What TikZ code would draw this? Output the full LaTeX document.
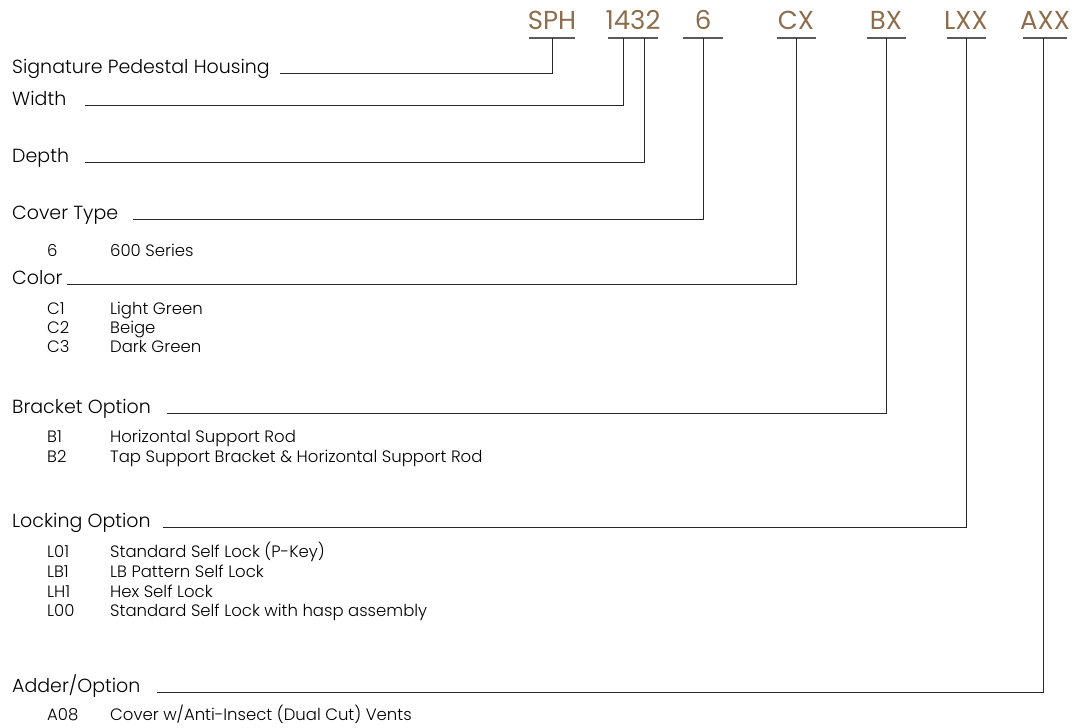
\documentclass[tikz,border=0pt]{standalone}
\usepackage{fontspec}
\setmainfont{Poppins}[UprightFont=* Light]
\newfontfamily\fuentecod{Poppins}
\usepackage{xcolor}
\definecolor{codigo}{RGB}{141, 109, 76}
\definecolor{linea}{RGB}{40, 40, 40}
\usetikzlibrary{positioning}
\tikzset{
  cod/.style={anchor=base, text=codigo, font=\fuentecod\fontsize{26}{26}\selectfont, inner sep=0pt},
  etiq/.style={anchor=base west, font=\fontsize{19}{21}\selectfont, inner sep=0pt},
  opc/.style={anchor=base west, font=\fontsize{16.5}{18}\selectfont, inner sep=0pt},
  raya/.style={draw=linea, line width=0.9pt},
  barra/.style={draw=black!65, line width=1.1pt}
}

\begin{document}
\begin{tikzpicture}[x=1pt, y=-1pt]
        \useasboundingbox (0,0) rectangle (1077,728);
        % codigos de la cabecera
        \foreach \x/\w/\t/\n in {552/46/SPH/sph, 633/50/1432/num, 703/40/6/six, 796/39/CX/cx, 886/39/BX/bx, 966/39/LXX/lxx, 1045/44/AXX/axx}{
            \node[cod] (\n) at (\x,29) {\t};
            \draw[barra] (\x-\w/2,38) -- (\x+\w/2,38);
        }
        \coordinate (tsph) at (552,38);
        \coordinate (twid) at (623,38);
        \coordinate (tdep) at (644,38);
        \coordinate (tcov) at (703,38);
        \coordinate (tcol) at (796,38);
        \coordinate (tbrk) at (886,38);
        \coordinate (tlck) at (966,38);
        \coordinate (tadd) at (1043,38);
        % etiquetas
        \node[etiq] (sig) at (12,73) {Signature Pedestal Housing};
        \node[etiq] (wid) at (12,105) {Width};
        \node[etiq] (dep) at (12,162) {Depth};
        \node[etiq] (cov) at (12,219) {Cover Type};
        \node[etiq] (col) at (12,284) {Color};
        \node[etiq] (brk) at (12,413) {Bracket Option};
        \node[etiq] (lck) at (12,527) {Locking Option};
        \node[etiq] (add) at (12,692) {Adder/Option};
        % opciones
        \node[opc] (o6) at (47,256) {6};
        \node[opc] at (110,256) {600 Series};
        \node[opc] (oc1) at (47,314) {C1};
        \node[opc] at (110,314) {Light Green};
        \node[opc] (oc2) at (47,333) {C2};
        \node[opc] at (110,333) {Beige};
        \node[opc] (oc3) at (47,352) {C3};
        \node[opc] at (110,352) {Dark Green};
        \node[opc] (ob1) at (47,442) {B1};
        \node[opc] at (110,442) {Horizontal Support Rod};
        \node[opc] (ob2) at (47,462) {B2};
        \node[opc] at (110,462) {Tap Support Bracket \& Horizontal Support Rod};
        \node[opc] (ol1) at (47,557) {L01};
        \node[opc] at (110,557) {Standard Self Lock (P-Key)};
        \node[opc] (ol2) at (47,577) {LB1};
        \node[opc] at (110,577) {LB Pattern Self Lock};
        \node[opc] (ol3) at (47,597) {LH1};
        \node[opc] at (110,597) {Hex Self Lock};
        \node[opc] (ol4) at (47,616) {L00};
        \node[opc] at (110,616) {Standard Self Lock with hasp assembly};
        \node[opc] (oa1) at (47,720) {A08};
        \node[opc] at (110,720) {Cover w/Anti-Insect (Dual Cut) Vents};
        % lineas
        \draw[raya] ([xshift=10pt]sig.base east) -| (tsph);
        \draw[raya] ([xshift=18pt]wid.base east) -| (twid);
        \draw[raya] ([xshift=16pt]dep.base east) -| (tdep);
        \draw[raya] ([xshift=15pt]cov.base east) -| (tcov);
        \draw[raya] ([xshift=4pt]col.base east) -| (tcol);
        \draw[raya] ([xshift=16pt]brk.base east) -| (tbrk);
        \draw[raya] ([xshift=12pt]lck.base east) -| (tlck);
        \draw[raya] ([xshift=16pt]add.base east) -| (tadd);
    \end{tikzpicture}
\end{document}
